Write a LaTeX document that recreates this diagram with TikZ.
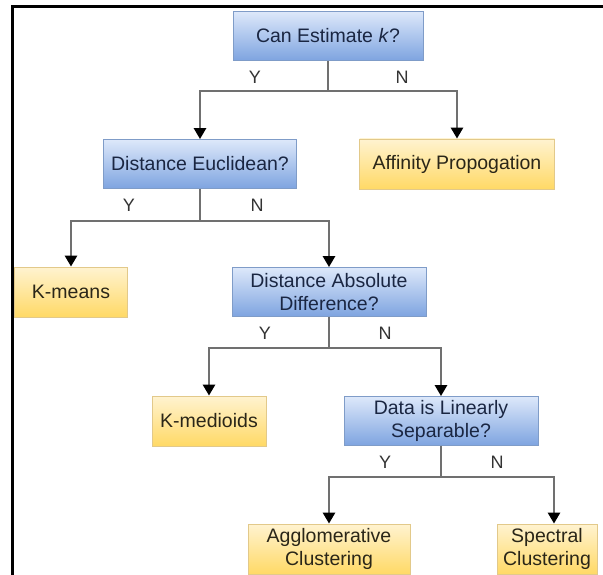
\documentclass[tikz,border=0pt]{standalone}
\usepackage{fontspec}
\setmainfont{Liberation Sans}
\usetikzlibrary{arrows.meta}

\definecolor{qtop}{HTML}{DDE8FA}
\definecolor{qbot}{HTML}{7EA4E0}
\definecolor{qedge}{HTML}{7F9CC8}
\definecolor{qtext}{HTML}{1A2642}
\definecolor{atop}{HTML}{FFF3D0}
\definecolor{abot}{HTML}{FFD966}
\definecolor{aedge}{HTML}{E2C98A}
\definecolor{atext}{HTML}{2A2618}
\definecolor{wire}{HTML}{707070}

\tikzset{
  question/.style={draw=qedge, line width=0.8pt, top color=qtop, bottom color=qbot,
    text=qtext, align=center, inner sep=0pt, minimum height=49pt,
    font=\fontsize{19.5}{23}\selectfont},
  answer/.style={draw=aedge, line width=0.8pt, top color=atop, bottom color=abot,
    text=atext, align=center, inner sep=0pt, minimum height=50pt,
    font=\fontsize{19.5}{23}\selectfont},
  branch/.style={draw=wire, line width=2.6pt},
  arrowed/.style={branch, -{Triangle[width=12pt,length=11pt,color=black]}},
  yn/.style={text=black!80, font=\fontsize{18}{20}\selectfont, inner sep=0pt}
}

\begin{document}
\begin{tikzpicture}[x=1pt, y=-1pt]
\useasboundingbox (0,0) rectangle (603,575);

% frame
\draw[line width=3pt, black] (12,578) -- (12,7) -- (606,7);

% decision boxes
\node[question, minimum width=190pt] (root) at (328,36) {Can Estimate \textit{k}?};
\node[question, minimum width=193pt] (eucl) at (200,164) {Distance Euclidean?};
\node[question, minimum width=194pt] (absd) at (329,292) {Distance Absolute\\Difference?};
\node[question, minimum width=194pt] (lin)  at (441,421) {Data is Linearly\\Separable?};

% outcome boxes
\node[answer, minimum width=195pt] (aff)    at (457,164) {Affinity Propogation};
\node[answer, minimum width=113pt] (kmeans) at (71,292)  {K-means};
\node[answer, minimum width=114pt] (kmed)   at (209,421) {K-medioids};
\node[answer, minimum width=162pt] (agg)    at (329,549) {Agglomerative\\Clustering};
\node[answer, minimum width=100pt] (spec)   at (547,549) {Spectral\\Clustering};

% branch points
\coordinate (j0) at (328,91);
\coordinate (j1) at (200,221);
\coordinate (j2) at (329,348);
\coordinate (j3) at (441,477);

% connectors
\draw[branch] (root.south) -- (j0);
\draw[arrowed] (j0) -| (eucl.north);
\draw[arrowed] (j0) -| (aff.north);

\draw[branch] (eucl.south) -- (j1);
\draw[arrowed] (j1) -| (kmeans.north);
\draw[arrowed] (j1) -| (absd.north);

\draw[branch] (absd.south) -- (j2);
\draw[arrowed] (j2) -| (kmed.north);
\draw[arrowed] (j2) -| (lin.north);

\draw[branch] (lin.south) -- (j3);
\draw[arrowed] (j3) -| (agg.north);
\draw[arrowed] (j3) -| ([xshift=7pt]spec.north);

% yes / no labels
\node[yn] (y0) at (255,77) {Y};
\node[yn] (n0) at (402,77) {N};
\node[yn] (y1) at (129,205) {Y};
\node[yn] (n1) at (257,205) {N};
\node[yn] (y2) at (265,333) {Y};
\node[yn] (n2) at (385,333) {N};
\node[yn] (y3) at (385,462) {Y};
\node[yn] (n3) at (497,462) {N};
\end{tikzpicture}
\end{document}
